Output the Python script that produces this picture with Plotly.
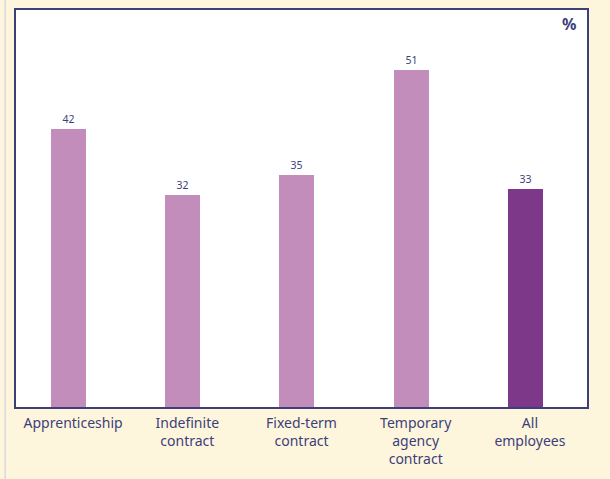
import plotly.graph_objects as go

categories = ["Apprenticeship", "Indefinite<br>contract", "Fixed-term<br>contract",
              "Temporary<br>agency<br>contract", "All<br>employees"]
values = [42, 32, 35, 51, 33]
bar_colors = ["#C28DBA", "#C28DBA", "#C28DBA", "#C28DBA", "#7D3889"]

NAVY = "#3C3F7A"

fig = go.Figure(
    go.Bar(
        x=categories,
        y=values,
        marker=dict(color=bar_colors, line=dict(width=0)),
        width=0.306,
        offset=-0.193,  # bars sit a little left of the category labels
        text=[str(v) for v in values],
        textposition="outside",
        textfont=dict(family="Noto Sans", size=10.5, color=NAVY),
        cliponaxis=False,
    )
)

fig.update_layout(
    width=610,
    height=479,
    margin=dict(l=16, r=23, t=8, b=72),
    paper_bgcolor="#FEF6DC",
    plot_bgcolor="white",
    showlegend=False,
    font=dict(family="Noto Sans", color=NAVY),
    bargap=0,
)
fig.update_xaxes(
    range=[-0.5, 4.5],
    showline=True, linecolor=NAVY, linewidth=1.5, mirror=True,
    ticks="outside", ticklen=2, tickcolor="rgba(0,0,0,0)",
    tickfont=dict(size=14, color=NAVY),
    showgrid=False,
)
fig.update_yaxes(
    range=[0, 60],
    showline=True, linecolor=NAVY, linewidth=1.5, mirror=True,
    showticklabels=False, ticks="", showgrid=False, zeroline=False,
)
fig.add_annotation(
    text="<b>%</b>", x=0.985, y=0.998, xref="paper", yref="paper",
    xanchor="right", yanchor="top", showarrow=False,
    font=dict(size=16, color=NAVY),
)
# thin lavender rule on the left page edge
fig.add_shape(
    type="line", xref="paper", yref="paper",
    x0=-0.019, x1=-0.019, y0=-0.2, y1=1.03,
    line=dict(color="#C8C8E0", width=1),
)

fig.write_html(
    "out.html",
    config={"displayModeBar": False},
    post_script="document.body.style.margin='0px';",
)
